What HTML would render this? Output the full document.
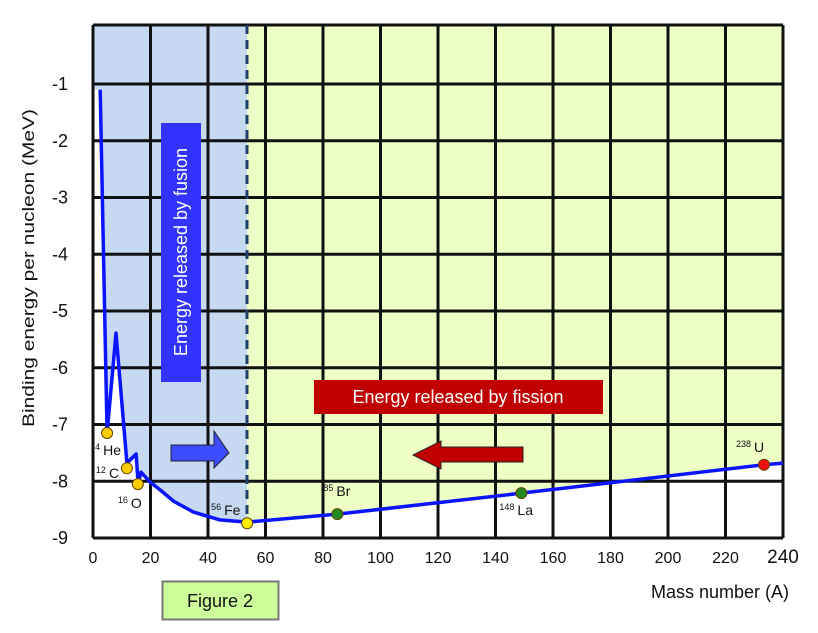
<!DOCTYPE html>
<html><head><meta charset="utf-8"><style>
body{margin:0;background:#fff;}
svg{display:block;font-family:"Liberation Sans",sans-serif;}
</style></head><body>
<svg id="chart" width="818" height="633" viewBox="0 0 818 633" xmlns="http://www.w3.org/2000/svg">
<g id="fills"></g>
<g id="grid"></g>
<g id="curve"></g>
<g id="labels"></g>
</svg>
<script>
const xTicks=[0,20,40,60,80,100,120,140,160,180,200,220,240];
const yTicks=[-1,-2,-3,-4,-5,-6,-7,-8,-9];
const curveA=[2.5,4.9,8,11.8,15,15.7,16.7,20,23.3,28,34.8,44,53.6,85,149,233.4,240];
const curveE=[-1.1,-7.15,-5.39,-7.68,-7.52,-8.05,-7.84,-8.02,-8.15,-8.35,-8.54,-8.68,-8.72,-8.58,-8.21,-7.71,-7.68];
const nuclideNames=["He","C","O","Fe","Br","La","U"];
const nuclideMass=["4","12","16","56","85","148","238"];
const nuclideA=[4.9,11.8,15.6,53.6,85,149,233.4];
const nuclideE=[-7.15,-7.77,-8.05,-8.74,-8.58,-8.21,-7.71];
const nuclideColor=["#ffcc00","#ffcc00","#ffcc00","#ffee00","#228822","#228822","#ee1111"];
const ns="http://www.w3.org/2000/svg";
const X=a=>93+a*(690/240);
const Y=e=>84+(-1-e)*56.75;
function mk(tag,attrs,parent,text){const el=document.createElementNS(ns,tag);for(const k in attrs)el.setAttribute(k,attrs[k]);if(text!==undefined)el.textContent=text;parent.appendChild(el);return el;}
const fills=document.getElementById('fills'),grid=document.getElementById('grid'),curve=document.getElementById('curve'),labels=document.getElementById('labels');
const pTop=25, pBot=538, pLeft=93, pRight=783, feX=247;
const cpts=curveA.map((a,i)=>[X(a),Y(curveE[i])]);
function interp(x){for(let i=0;i<cpts.length-1;i++){if(x>=cpts[i][0]&&x<=cpts[i+1][0]){const t=(x-cpts[i][0])/(cpts[i+1][0]-cpts[i][0]);return cpts[i][1]+t*(cpts[i+1][1]-cpts[i][1]);}}return x<cpts[0][0]?cpts[0][1]:cpts[cpts.length-1][1];}
function regionPoly(x0,x1){
 let pts;
 if(x0<cpts[0][0]){pts=[[x0,pTop],[x0,cpts[0][1]]];cpts.forEach(p=>{if(p[0]<x1)pts.push(p);});}
 else{pts=[[x0,pTop],[x0,interp(x0)]];cpts.forEach(p=>{if(p[0]>x0&&p[0]<x1)pts.push(p);});}
 pts.push([x1,interp(x1)]);pts.push([x1,pTop]);
 return pts.map(p=>p.join(',')).join(' ');}
let el=mk('polygon',{points:regionPoly(pLeft,feX),fill:'#c6d9f1'},fills);


el=mk('polygon',{points:regionPoly(feX,pRight),fill:'#eeffc6'},fills);


xTicks.forEach(t=>{const g=mk('line',{x1:X(t),x2:X(t),y1:pTop,y2:pBot,stroke:'#111','stroke-width':3},grid);
 
 });
mk('line',{x1:pLeft,x2:pRight,y1:pTop,y2:pTop,stroke:'#111','stroke-width':3},grid);
yTicks.forEach(t=>{const g=mk('line',{x1:pLeft,x2:pRight,y1:Y(t),y2:Y(t),stroke:'#111','stroke-width':3},grid);
 
 });
el=mk('line',{x1:feX,x2:feX,y1:pTop,y2:pBot-16,stroke:'#1f3f6a','stroke-width':3,'stroke-dasharray':'9,6'},grid);


el=mk('rect',{x:161,y:123,width:40,height:259,fill:'#3333ff'},labels);


el=mk('text',{x:0,y:0,transform:'translate(187,252) rotate(-90)','text-anchor':'middle',fill:'#fff','font-size':18},labels,'Energy released by fusion');


el=mk('rect',{x:314,y:380,width:289,height:34,fill:'#c00000'},labels);


el=mk('text',{x:458,y:403,'text-anchor':'middle',fill:'#fff','font-size':18},labels,'Energy released by fission');


el=mk('polygon',{points:'171,445 214,445 214,431 229,453 214,468 214,461 171,461',fill:'#3b4bff',stroke:'#223','stroke-width':1},labels);


el=mk('polygon',{points:'523,447 441,447 441,441 413,455 441,469 441,462 523,462',fill:'#c00000',stroke:'#222','stroke-width':1},labels);


el=mk('polyline',{points:cpts.map(p=>p.join(',')).join(' '),fill:'none',stroke:'#0a14ff','stroke-width':3.5,'stroke-linejoin':'round'},curve);


const labOff=[[-12,22],[-31,10],[-20,24],[-36,-8],[-14,-18],[-22,22],[-28,-13]];
nuclideA.forEach((a,i)=>{
 const c=mk('circle',{cx:X(a),cy:Y(nuclideE[i]),r:5.5,fill:nuclideColor[i],stroke:'#664400','stroke-width':1},curve);
 
 
 const t=mk('text',{x:X(a)+labOff[i][0],y:Y(nuclideE[i])+labOff[i][1],'font-size':14,fill:'#111'},labels);
 mk('tspan',{'font-size':9,dy:-5},t,nuclideMass[i]);mk('tspan',{dy:5,dx:3},t,nuclideNames[i]);
 
 
});
xTicks.forEach((t,i)=>{const last=i===xTicks.length-1;const tx=mk('text',{x:X(t),y:563,'text-anchor':'middle','font-size':last?19:16,fill:'#111'},labels,String(t));
 
 });
yTicks.forEach(t=>{const tx=mk('text',{x:68,y:Y(t)+6,'text-anchor':'end','font-size':18,fill:'#111'},labels,String(t));
 
 });
el=mk('text',{x:0,y:0,transform:'translate(34,268) rotate(-90)','text-anchor':'middle','font-size':17,textLength:318,lengthAdjust:'spacingAndGlyphs',fill:'#111'},labels,'Binding energy per nucleon (MeV)');


el=mk('text',{x:789,y:598,'text-anchor':'end','font-size':18,fill:'#111'},labels,'Mass number (A)');


el=mk('rect',{x:162.5,y:581.5,width:116,height:38,fill:'#ccff99',stroke:'#777','stroke-width':2},labels);


el=mk('text',{x:220,y:607,'text-anchor':'middle','font-size':18,fill:'#111'},labels,'Figure 2');


</script>
</body></html>
